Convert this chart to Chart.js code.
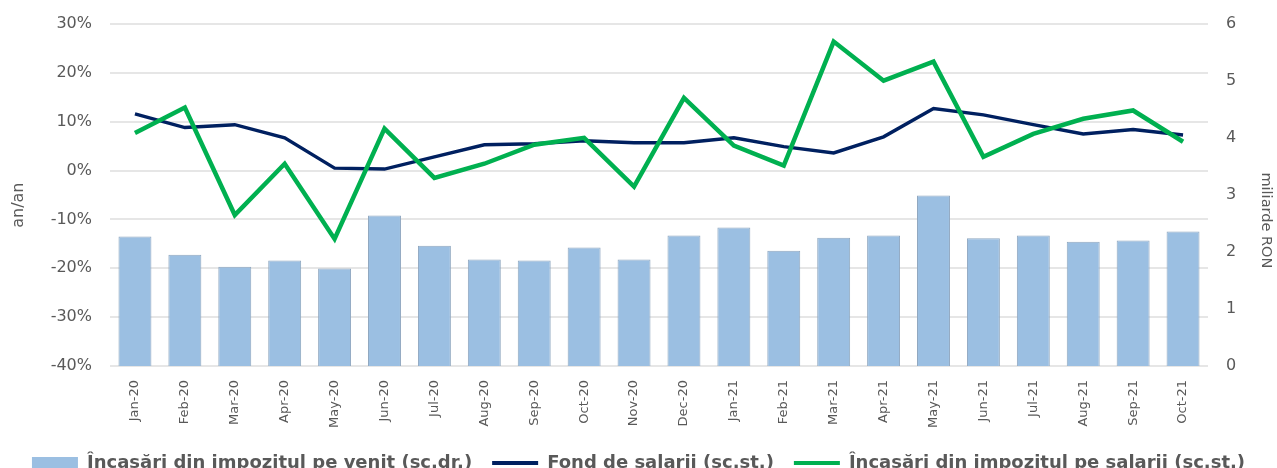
<!DOCTYPE html>
<html>
<head>
<meta charset="utf-8">
<script src="https://cdn.jsdelivr.net/npm/chart.js@4/dist/chart.umd.min.js"></script>
<style>
  html, body { margin: 0; padding: 0; background: #fff; overflow: hidden; }
  #wrap { width: 1277px; height: 468px; overflow: hidden; }
</style>
</head>
<body>
<div id="wrap"><canvas id="chart" width="1277" height="482"></canvas></div>
<script>
// Luni
const months = [
  "Jan-20", "Feb-20", "Mar-20", "Apr-20", "May-20", "Jun-20", "Jul-20", "Aug-20",
  "Sep-20", "Oct-20", "Nov-20", "Dec-20", "Jan-21", "Feb-21", "Mar-21", "Apr-21",
  "May-21", "Jun-21", "Jul-21", "Aug-21", "Sep-21", "Oct-21",
];
// Incasari din impozitul pe venit, miliarde RON (scala dreapta)
const incomeTax = [
  2.27, 1.95, 1.74, 1.85, 1.71, 2.64, 2.11, 1.87, 1.85, 2.08, 1.87,
  2.29, 2.43, 2.02, 2.25, 2.29, 2.99, 2.24, 2.29, 2.18, 2.20, 2.36,
];
// Fond de salarii, % an/an (scala stanga)
const wageFund = [
  11.6, 8.8, 9.4, 6.7, 0.5, 0.3, 2.8, 5.3, 5.5, 6.1, 5.7,
  5.7, 6.7, 4.9, 3.6, 6.9, 12.7, 11.4, 9.4, 7.5, 8.4, 7.3,
];
// Incasari din impozitul pe salarii, % an/an (scala stanga)
const wageTax = [
  7.7, 12.9, -9.1, 1.4, -14.0, 8.6, -1.5, 1.4, 5.3, 6.7, -3.3,
  14.9, 5.1, 1.0, 26.4, 18.4, 22.3, 2.8, 7.5, 10.6, 12.3, 5.9,
];
// Etichete axe
const leftTicks = { min: -40, max: 30, step: 10 };
const rightTicks = { min: 0, max: 6, step: 1 };

const textGray = "#595959";
const gridGray = "#e6e6e6";
const barBlue = "#9bbfe2";
const navy = "#002060";
const green = "#00b050";

const fontFamily = "'DejaVu Sans', Verdana, sans-serif";

const data = {
  labels: months,
  datasets: [
    {
      type: "bar",
      label: "Încasări din impozitul pe venit (sc.dr.)",
      data: incomeTax,
      yAxisID: "y1",
      backgroundColor: barBlue,
      borderColor: "#8ea6bf",
      borderWidth: 1,
      categoryPercentage: 1,
      barPercentage: 0.66,
      order: 3,
    },
    {
      type: "line",
      label: "Fond de salarii (sc.st.)",
      data: wageFund,
      yAxisID: "y",
      borderColor: navy,
      backgroundColor: navy,
      borderWidth: 3.5,
      pointRadius: 0,
      tension: 0,
      order: 2,
    },
    {
      type: "line",
      label: "Încasări din impozitul pe salarii (sc.st.)",
      data: wageTax,
      yAxisID: "y",
      borderColor: green,
      backgroundColor: green,
      borderWidth: 4.5,
      pointRadius: 0,
      tension: 0,
      order: 1,
    },
  ],
};

const config = {
  type: "bar",
  data,
  options: {
    responsive: false,
    animation: false,
    layout: { padding: { top: 24, bottom: 0, left: 0, right: 0 } },
    plugins: {
      tooltip: { enabled: false },
      legend: {
        position: "bottom",
        labels: {
          color: textGray,
          font: { family: fontFamily, size: 18, weight: "bold" },
          usePointStyle: true,
          pointStyleWidth: 46,
          boxHeight: 12,
          padding: 20,
          // Bara pentru coloane, linie pentru serii
          generateLabels(chart) {
            return chart.data.datasets.map((ds, i) => ({
              text: ds.label,
              fillStyle: ds.backgroundColor,
              strokeStyle: ds.type === "bar" ? ds.backgroundColor : ds.borderColor,
              lineWidth: ds.type === "bar" ? 0 : 4,
              pointStyle: ds.type === "bar" ? "rect" : "line",
              fontColor: textGray,
              datasetIndex: i,
              hidden: false,
            }));
          },
        },
      },
    },
    scales: {
      x: {
        grid: { display: false },
        border: { display: false },
        ticks: {
          color: textGray,
          font: { family: fontFamily, size: 13 },
          maxRotation: 90,
          minRotation: 90,
          autoSkip: false,
          padding: 6,
        },
        afterFit(scale) {
          scale.height = 68;
        },
      },
      y: {
        position: "left",
        min: leftTicks.min,
        max: leftTicks.max,
        grid: { color: gridGray, lineWidth: 2, drawTicks: false },
        border: { display: false },
        ticks: {
          stepSize: leftTicks.step,
          color: textGray,
          font: { family: fontFamily, size: 16 },
          padding: 18,
          callback: (v) => v + "%",
        },
        title: {
          display: true,
          text: "an/an    ",
          color: textGray,
          font: { family: fontFamily, size: 16 },
          padding: { top: 9, bottom: 0 },
        },
        afterFit(scale) {
          scale.width = 110;
          scale.paddingTop = 0;
        },
      },
      y1: {
        position: "right",
        min: rightTicks.min,
        max: rightTicks.max,
        grid: { display: false, drawTicks: false },
        border: { display: false },
        ticks: {
          stepSize: rightTicks.step,
          color: textGray,
          font: { family: fontFamily, size: 16 },
          padding: 18,
        },
        title: {
          display: true,
          text: "           miliarde RON",
          color: textGray,
          font: { family: fontFamily, size: 14.5 },
          padding: { top: 3, bottom: 0 },
        },
        afterFit(scale) {
          scale.width = 69;
          scale.paddingTop = 0;
        },
      },
    },
  },
};

const ctx = document.getElementById("chart").getContext("2d");
const chart = new Chart(ctx, config);
</script>
</body>
</html>
